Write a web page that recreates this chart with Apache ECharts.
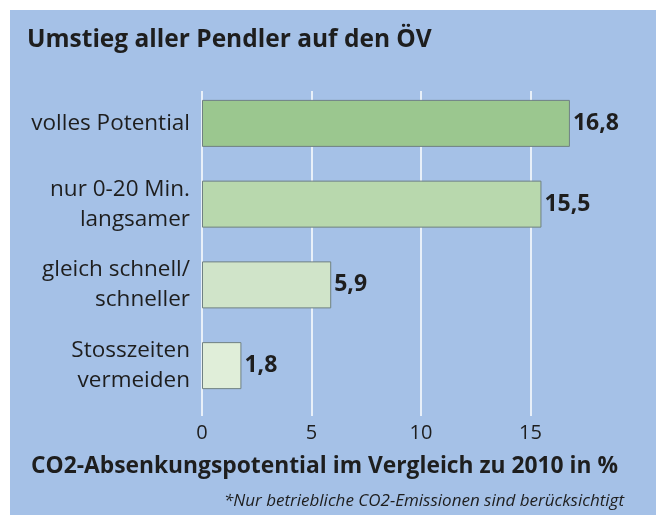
<!DOCTYPE html>
<html>
<head>
<meta charset="utf-8">
<script src="https://cdn.jsdelivr.net/npm/echarts@6/dist/echarts.min.js"></script>
<style>
  html, body { margin: 0; padding: 0; background: #fff; }
  #chart { width: 656px; height: 515px; }
</style>
</head>
<body>
<div id="chart"></div>
<script>
// Umstieg aller Pendler auf den ÖV - CO2-Absenkungspotential
const categories = ['volles Potential', 'nur 0-20 Min.\nlangsamer', 'gleich schnell/\nschneller', 'Stosszeiten\nvermeiden'];
const values = [16.8, 15.5, 5.9, 1.8];
const barColors = ['#9bc78f', '#b8d8ad', '#d0e4c9', '#e0eed9'];
const xTicks = { min: 0, max: 20, interval: 5 };

const FONT = '"Open Sans", Lato, sans-serif';
const BLUE = '#a5c1e7';
const INK = '#1e1e1e';

const chart = echarts.init(document.getElementById('chart'));

chart.setOption({
  backgroundColor: '#ffffff',
  animation: false,
  graphic: [{
    type: 'rect', z: -10, silent: true,
    shape: { x: 10, y: 10, width: 646, height: 505 },
    style: { fill: BLUE }
  }],
  title: [
    { text: 'Umstieg aller Pendler auf den ÖV', left: 27, top: 28, padding: 0,
      textStyle: { fontFamily: FONT, fontSize: 24.5, fontWeight: 'bold', color: INK } },
    { text: 'CO2-Absenkungspotential im Vergleich zu 2010 in %', left: 31, top: 455, padding: 0,
      textStyle: { fontFamily: FONT, fontSize: 22.8, fontWeight: 'bold', color: INK } },
    { text: '*Nur betriebliche CO2-Emissionen sind berücksichtigt', right: 32, top: 493, padding: 0,
      textStyle: { fontFamily: FONT, fontSize: 17, fontStyle: 'italic', fontWeight: 'normal', color: INK } }
  ],
  grid: [
    // bars
    { left: 202, right: 16, top: 83, height: 323 },
    // gridlines + tick labels
    { left: 202, right: 16, top: 91, height: 325 }
  ],
  xAxis: [
    { gridIndex: 0, type: 'value', min: xTicks.min, max: xTicks.max, interval: xTicks.interval,
      axisLine: { show: false }, axisTick: { show: false }, axisLabel: { show: false }, splitLine: { show: false } },
    { gridIndex: 1, type: 'value', min: xTicks.min, max: xTicks.max, interval: xTicks.interval,
      axisLine: { show: false }, axisTick: { show: false },
      axisLabel: { margin: 7, fontFamily: FONT, fontSize: 20, color: INK, showMaxLabel: false },
      splitLine: { show: true, showMaxLine: false, lineStyle: { color: '#ffffff', width: 1.5 } } }
  ],
  yAxis: [
    { gridIndex: 0, type: 'category', data: categories, inverse: true,
      axisLine: { show: false }, axisTick: { show: false },
      axisLabel: { margin: 12, fontFamily: FONT, fontSize: 22.5, lineHeight: 30, color: INK, align: 'right' } },
    { gridIndex: 1, type: 'value', show: false, min: 0, max: 1 }
  ],
  series: [{
    type: 'bar',
    xAxisIndex: 0, yAxisIndex: 0,
    barWidth: 47,
    z: 5,
    data: values.map((v, i) => ({
      value: v,
      itemStyle: { color: barColors[i], borderColor: '#6f8082', borderWidth: 1 }
    })),
    label: {
      show: true, position: 'right', distance: 3,
      fontFamily: FONT, fontSize: 23, fontWeight: 'bold', color: INK,
      formatter: p => String(p.value).replace('.', ',')
    }
  }]
});
</script>
</body>
</html>
